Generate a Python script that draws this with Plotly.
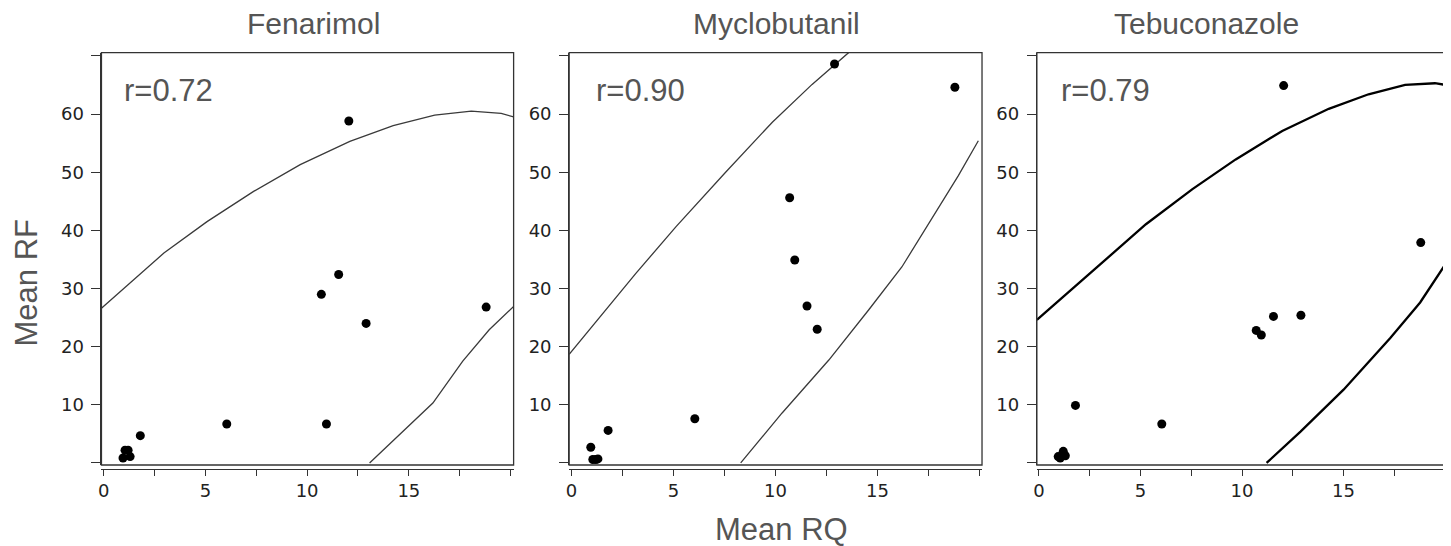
import plotly.graph_objects as go

W, H = 1451, 546
OFF = 8  # page body margin in the browser

panels = ["Fenarimol", "Myclobutanil", "Tebuconazole"]
r_labels = ["r=0.72", "r=0.90", "r=0.79"]

# Scatter data (Mean RQ, Mean RF)
rq_fenarimol = [12.05, 11.55, 10.7, 12.9, 18.8, 6.05, 10.95, 1.8, 1.05, 1.2, 1.3, 0.95]
rf_fenarimol = [58.8, 32.4, 29.0, 24.0, 26.8, 6.7, 6.7, 4.7, 2.2, 2.2, 1.1, 0.85]

rq_myclobutanil = [12.9, 18.8, 10.7, 10.95, 11.55, 12.05, 6.05, 1.8, 0.95, 1.05, 1.2, 1.3]
rf_myclobutanil = [68.6, 64.6, 45.6, 34.9, 27.0, 23.0, 7.6, 5.6, 2.7, 0.6, 0.6, 0.7]

rq_tebuconazole = [12.05, 18.8, 11.55, 12.9, 10.7, 10.95, 1.8, 6.05, 1.2, 0.95, 1.05, 1.3]
rf_tebuconazole = [64.9, 37.9, 25.2, 25.4, 22.8, 22.0, 9.9, 6.7, 2.0, 1.1, 0.85, 1.25]

# Density-ellipse boundary curves
fen_upper_x = [-0.11, 2.96, 5.08, 7.37, 9.66, 12.1, 14.23, 16.27, 18.07, 19.54, 20.15]
fen_upper_y = [26.6, 36.1, 41.5, 46.7, 51.3, 55.3, 58.0, 59.8, 60.5, 60.1, 59.5]
fen_lower_x = [13.07, 14.38, 16.18, 17.65, 18.95, 20.15]
fen_lower_y = [0.0, 4.3, 10.3, 17.5, 22.9, 26.9]

myc_upper_x = [-0.11, 1.53, 3.16, 5.12, 7.56, 9.85, 11.8, 13.6]
myc_upper_y = [18.7, 25.7, 32.6, 40.6, 50.0, 58.6, 65.1, 70.6]
myc_lower_x = [8.3, 10.33, 12.62, 14.57, 16.2, 17.83, 18.97, 19.95]
myc_lower_y = [0.0, 8.6, 17.7, 26.3, 33.7, 42.9, 49.4, 55.4]

teb_upper_x = [-0.1, 2.65, 5.27, 7.56, 9.69, 11.98, 14.27, 16.23, 18.03, 19.5, 20.03]
teb_upper_y = [24.6, 33.0, 41.05, 47.1, 52.2, 57.1, 60.9, 63.4, 65.0, 65.3, 65.0]
teb_lower_x = [11.21, 12.88, 15.0, 17.3, 18.77, 19.98]
teb_lower_y = [0.0, 5.4, 12.6, 21.5, 27.6, 34.0]

x_tickvals = [0, 2.5, 5, 7.5, 10, 12.5, 15, 17.5, 20]
x_ticktext = ["0", "", "5", "", "10", "", "15", "", ""]
y_tickvals = [0, 10, 20, 30, 40, 50, 60, 70]
y_ticktext = ["", "10", "20", "30", "40", "50", "60", ""]

scatter_sets = [
    (rq_fenarimol, rf_fenarimol),
    (rq_myclobutanil, rf_myclobutanil),
    (rq_tebuconazole, rf_tebuconazole),
]
curve_sets = [
    [(fen_upper_x, fen_upper_y), (fen_lower_x, fen_lower_y)],
    [(myc_upper_x, myc_upper_y), (myc_lower_x, myc_lower_y)],
    [(teb_upper_x, teb_upper_y), (teb_lower_x, teb_lower_y)],
]
line_styles = [("#3a3a3a", 1.3), ("#3a3a3a", 1.3), ("#000000", 2.3)]

# layout geometry (screen pixels of the reference)
x_dom_px = [(97.7, 511.0), (566.7, 980.7), (1035.7, 1445.7)]
y_dom_px = (52.7, 465.0)
x_ranges = [[-0.11, 20.15], [-0.11, 20.13], [-0.1, 20.03]]
y_range = [-0.35, 70.55]
title_cx = [310.5, 775.0, 1206.0]
r_left = [118.0, 592.0, 1058.0]


def px(x):
    return (x - OFF) / W


def py(y):
    return 1 - (y - OFF) / H


ydom = [py(y_dom_px[1]), py(y_dom_px[0])]
axis_offset = 3.5 / H

fig = go.Figure()
tick_font = dict(family="DejaVu Sans", size=18, color="#222222")
text_color = "#555555"
text_font = "Liberation Sans, Arial, sans-serif"

for i in range(3):
    n = "" if i == 0 else str(i + 1)
    xa, ya = "x" + n, "y" + n
    for cx, cy in curve_sets[i]:
        fig.add_trace(go.Scatter(
            x=cx, y=cy, mode="lines", xaxis=xa, yaxis=ya,
            line=dict(color=line_styles[i][0], width=line_styles[i][1]),
            showlegend=False, hoverinfo="skip"))
    sx, sy = scatter_sets[i]
    fig.add_trace(go.Scatter(
        x=sx, y=sy, mode="markers", xaxis=xa, yaxis=ya,
        marker=dict(color="black", size=9), showlegend=False, cliponaxis=False))

    xd = [px(x_dom_px[i][0]), px(x_dom_px[i][1])]
    fig.layout["xaxis" + n] = dict(
        domain=xd, range=x_ranges[i], anchor="free", position=ydom[0] - axis_offset,
        tickvals=x_tickvals, ticktext=x_ticktext, ticks="outside", ticklen=6,
        tickwidth=1, tickcolor="#333333", showline=True, linecolor="#333333", linewidth=1,
        showgrid=False, zeroline=False, tickfont=tick_font, fixedrange=True)
    fig.layout["yaxis" + n] = dict(
        domain=ydom, range=y_range, anchor=xa,
        tickvals=y_tickvals, ticktext=y_ticktext, ticks="outside", ticklen=9,
        ticklabelstandoff=4,
        tickwidth=1, tickcolor="#333333", showline=True, linecolor="#333333", linewidth=1,
        showgrid=False, zeroline=False, tickfont=tick_font, fixedrange=True)
    # frame
    fig.add_shape(type="rect", xref=xa + " domain", yref=ya + " domain",
                  x0=0, x1=1, y0=0, y1=1, line=dict(color="#333333", width=1.3))
    # panel title
    fig.add_annotation(text=panels[i], xref="paper", yref="paper",
                       x=px(title_cx[i]), y=py(23.5), xanchor="center", yanchor="middle",
                       showarrow=False, font=dict(family=text_font, size=30, color=text_color))
    # r label
    fig.add_annotation(text=r_labels[i], xref="paper", yref="paper",
                       x=px(r_left[i]), y=py(90), xanchor="left", yanchor="middle",
                       showarrow=False, font=dict(family=text_font, size=31, color=text_color))

fig.add_annotation(text="Mean RQ", xref="paper", yref="paper",
                   x=px(779.7), y=py(529), xanchor="center", yanchor="middle",
                   showarrow=False, font=dict(family=text_font, size=31, color=text_color))
fig.add_annotation(text="Mean RF", xref="paper", yref="paper",
                   x=px(22.5), y=py(283), xanchor="center", yanchor="middle", textangle=-90,
                   showarrow=False, font=dict(family=text_font, size=31, color=text_color))

fig.update_layout(width=W, height=H, margin=dict(l=0, r=0, t=0, b=0),
                  paper_bgcolor="white", plot_bgcolor="white")

fig.write_html("out.html")
